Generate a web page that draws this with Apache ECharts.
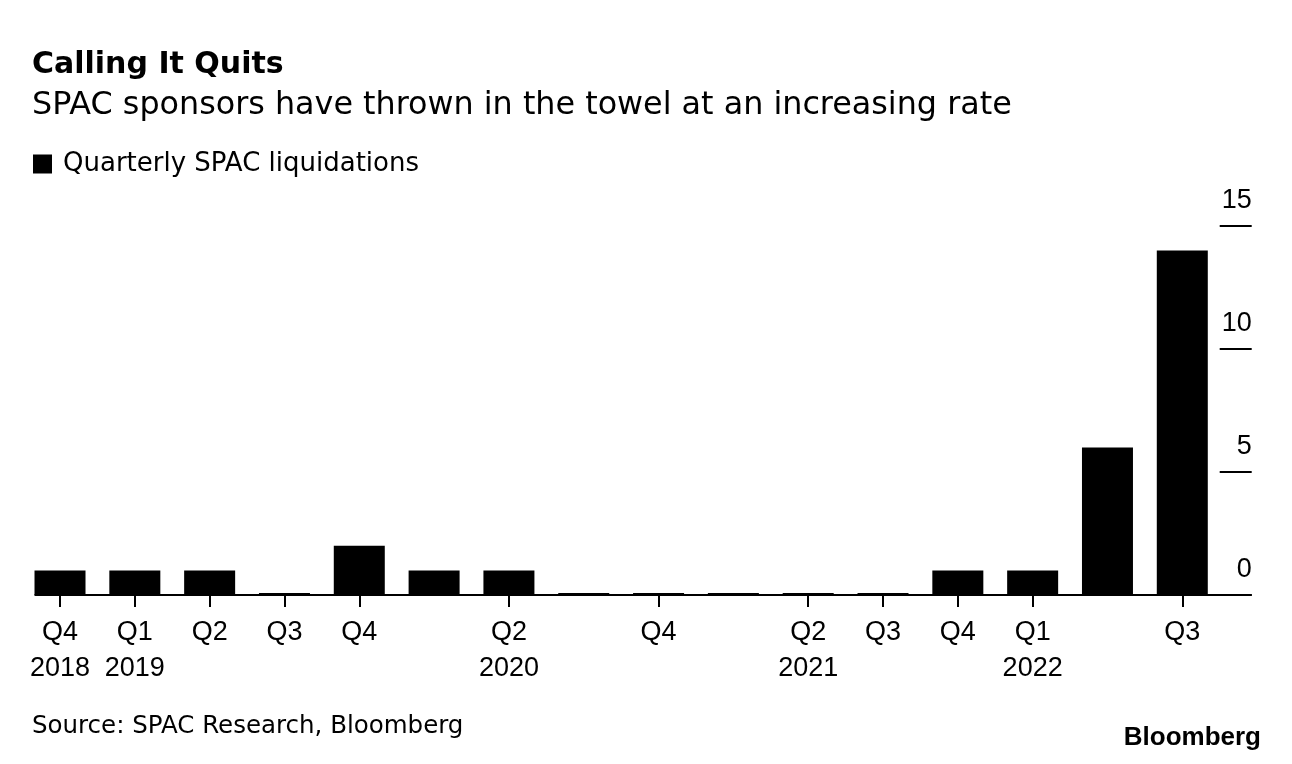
<!DOCTYPE html>
<html>
<head>
<meta charset="utf-8">
<script src="https://cdn.jsdelivr.net/npm/echarts@6/dist/echarts.min.js"></script>
<style>
html,body{margin:0;padding:0;background:#fff;}
#c{width:1292px;height:764px;}
</style>
</head>
<body>
<div id="c"></div>
<script>
const categories = ["Q4 2018","Q1 2019","Q2 2019","Q3 2019","Q4 2019","Q1 2020","Q2 2020","Q3 2020","Q4 2020","Q1 2021","Q2 2021","Q3 2021","Q4 2021","Q1 2022","Q2 2022","Q3 2022"];
const liquidations = [1,1,1,0,2,1,1,0,0,0,0,0,1,1,6,14];
const tickLabels = ["Q4\n2018","Q1\n2019","Q2","Q3","Q4","","Q2\n2020","","Q4","","Q2\n2021","Q3","Q4","Q1\n2022","","Q3"];
const yTicks = [0,5,10,15];

const FONT = '"Liberation Sans", Arial, Helvetica, sans-serif';
const WIDE = '"DejaVu Sans", "Liberation Sans", sans-serif';
const chart = echarts.init(document.getElementById('c'));
chart.setOption({
  backgroundColor:'#fff',
  animation:false,
  title:[
    {text:'Calling It Quits', left:27, top:45, textStyle:{fontFamily:WIDE,fontSize:30,fontWeight:'bold',color:'#000'}},
    {text:'SPAC sponsors have thrown in the towel at an increasing rate', left:27, top:85, textStyle:{fontFamily:WIDE,fontSize:31.8,fontWeight:'normal',color:'#000'}},
    {text:'Source: SPAC Research, Bloomberg', left:27, top:709, textStyle:{fontFamily:WIDE,fontSize:24.5,fontWeight:'normal',color:'#000'}},
    {text:'Bloomberg', right:26, top:720, textStyle:{fontFamily:FONT,fontSize:26,fontWeight:'bold',color:'#000'}}
  ],
  legend:{
    left:28, top:146, icon:'rect', itemWidth:19, itemHeight:19, itemGap:10,
    textStyle:{fontFamily:WIDE,fontSize:26,color:'#000',padding:[0,0,0,6]},
    data:['Quarterly SPAC liquidations']
  },
  grid:{left:22.6, right:72.3, top:226, bottom:169, containLabel:false},
  xAxis:{
    type:'category', data:categories,
    axisLine:{show:false},
    axisTick:{show:true, alignWithLabel:true, length:12, lineStyle:{color:'#000',width:2},
      interval:function(i){return tickLabels[i] !== '';}},
    axisLabel:{interval:0, margin:20, fontFamily:FONT, fontSize:27, lineHeight:36, color:'#000',
      formatter:function(v,i){return tickLabels[i];}}
  },
  yAxis:{
    type:'value', position:'right', min:0, max:15, interval:5,
    splitLine:{show:false},
    axisLine:{show:false},
    axisTick:{show:true, inside:false, length:32, lineStyle:{color:'#000',width:2}},
    axisLabel:{margin:32, align:'right', verticalAlign:'bottom', padding:[0,0,12,0],
      fontFamily:FONT, fontSize:27, color:'#000',
      formatter:function(v){return yTicks.indexOf(v)>=0 ? String(v) : '';}}
  },
  series:[{
    name:'Quarterly SPAC liquidations', type:'bar', data:liquidations,
    barWidth:51, barMinHeight:2,
    itemStyle:{color:'#000'}
  }]
});
// baseline from left edge of first bar to the end of the right-hand ticks
const p0 = chart.convertToPixel({gridIndex:0}, [0, 0]);
const pN = chart.convertToPixel({gridIndex:0}, [categories.length - 1, 0]);
const half = 51 / 2;
const band = (pN[0] - p0[0]) / (categories.length - 1);
chart.setOption({
  graphic:[{type:'line', z:10, shape:{x1:p0[0]-half, y1:p0[1], x2:pN[0]+band/2+32, y2:pN[1]},
    style:{stroke:'#000', lineWidth:2}}]
});
</script>
</body>
</html>
